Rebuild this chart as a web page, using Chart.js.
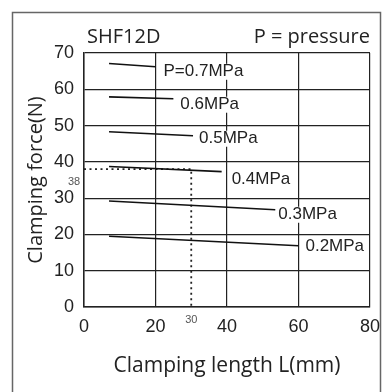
<!DOCTYPE html>
<html>
<head>
<meta charset="utf-8">
<script src="https://cdn.jsdelivr.net/npm/chart.js@4"></script>
<style>
  html, body { margin: 0; padding: 0; background: #fff; }
  #wrap { width: 389px; height: 392px; }
</style>
</head>
<body>
<div id="wrap"><canvas id="forceChart" width="389" height="392"></canvas></div>
<script>
// curve labels (one per supply pressure)
const pressureLabels = ['P=0.7MPa', '0.6MPa', '0.5MPa', '0.4MPa', '0.3MPa', '0.2MPa'];
// clamping length L (mm) at start / end of each curve
const startLength = [7, 7, 7, 7, 7, 7];
const endLength = [20, 25, 30.5, 38.5, 53.5, 60];
// clamping force (N) at start / end of each curve
const startForce = [67.1, 57.9, 48.3, 38.7, 29.2, 19.5];
const endForce = [66.2, 57.4, 47.2, 37.3, 26.8, 16.9];
// worked example read-off
const exampleLength = 30;
const exampleForce = 38;

const xTicks = [0, 20, 40, 60, 80];
const yTicks = [0, 10, 20, 30, 40, 50, 60, 70];

// label nudges from curve end (px)
const labelNudge = [[8, 5], [7, 6], [6, 3], [10, 8], [3, 5], [7, 1]];

const numFont = '"Liberation Sans", Arial, sans-serif';
const textFont = '"Open Sans", "Noto Sans", sans-serif';

const datasets = pressureLabels.map((label, i) => ({
    label: label,
    data: [
        { x: startLength[i], y: startForce[i] },
        { x: endLength[i], y: endForce[i] }
    ],
    borderColor: '#111',
    borderWidth: 1.6,
    pointRadius: 0,
    fill: false
}));

datasets.push({
    label: 'example',
    data: [
        { x: 0, y: exampleForce },
        { x: exampleLength, y: exampleForce },
        { x: exampleLength, y: 0 }
    ],
    borderColor: '#222',
    borderWidth: 1.8,
    borderDash: [2, 3.5],
    pointRadius: 0,
    fill: false
});

// frame, header texts, curve labels, small read-off numbers
const annotate = {
    id: 'annotate',
    beforeDraw(chart) {
        const ctx = chart.ctx;
        ctx.save();
        ctx.fillStyle = '#fff';
        ctx.fillRect(0, 0, chart.width, chart.height);
        ctx.strokeStyle = '#666';
        ctx.lineWidth = 1.5;
        ctx.strokeRect(12.5, 12.5, 368, 400);
        ctx.restore();
    },
    afterDatasetsDraw(chart) {
        const ctx = chart.ctx;
        const xs = chart.scales.x, ys = chart.scales.y;
        const area = chart.chartArea;
        ctx.save();
        ctx.fillStyle = '#222';
        ctx.textBaseline = 'middle';

        ctx.font = '20px ' + textFont;
        ctx.textAlign = 'left';
        ctx.fillText('SHF12D', area.left + 3, 37);
        ctx.textAlign = 'right';
        ctx.fillText('P = pressure', area.right, 37);

        ctx.font = '17px ' + numFont;
        ctx.textAlign = 'left';
        pressureLabels.forEach((label, i) => {
            const px = xs.getPixelForValue(endLength[i]) + labelNudge[i][0];
            const py = ys.getPixelForValue(endForce[i]) + labelNudge[i][1];
            ctx.fillStyle = '#fff';
            const w = ctx.measureText(label).width;
            ctx.fillRect(px - 1, py - 8, w + 2, 16);
            ctx.fillStyle = '#222';
            ctx.fillText(label, px, py);
        });

        ctx.font = '11px ' + numFont;
        ctx.fillStyle = '#555';
        ctx.textAlign = 'center';
        ctx.fillText(String(exampleForce), area.left - 10, ys.getPixelForValue(exampleForce) + 13);
        ctx.fillText(String(exampleLength), xs.getPixelForValue(exampleLength), area.bottom + 13);
        ctx.restore();
    }
};

new Chart(document.getElementById('forceChart'), {
    type: 'line',
    data: { datasets: datasets },
    options: {
        responsive: false,
        animation: false,
        devicePixelRatio: 1,
        layout: { padding: { left: 0, top: 53, right: 18, bottom: 0 } },
        plugins: {
            legend: { display: false },
            tooltip: { enabled: false }
        },
        scales: {
            x: {
                type: 'linear',
                min: 0,
                max: 80,
                afterBuildTicks: s => { s.ticks = xTicks.map(v => ({ value: v })); },
                afterFit: s => { s.height = 85; },
                grid: { color: '#222', lineWidth: 1.2, drawTicks: false },
                border: { color: '#222', width: 1.5 },
                ticks: { color: '#222', padding: 9, font: { family: numFont, size: 18 } },
                title: {
                    display: true,
                    text: 'Clamping length L(mm)',
                    color: '#222',
                    font: { family: textFont, size: 21 },
                    padding: { top: 0, bottom: 13 }
                }
            },
            y: {
                min: 0,
                max: 70,
                afterBuildTicks: s => { s.ticks = yTicks.map(v => ({ value: v })); },
                afterFit: s => { s.width = 84; },
                grid: { color: '#222', lineWidth: 1.2, drawTicks: false },
                border: { color: '#222', width: 1.5 },
                ticks: { color: '#222', padding: 10, font: { family: numFont, size: 18 } },
                title: {
                    display: true,
                    text: 'Clamping force(N)',
                    color: '#222',
                    font: { family: textFont, size: 20 },
                    padding: { top: 24, bottom: 0 }
                }
            }
        }
    },
    plugins: [annotate]
});
</script>
</body>
</html>
